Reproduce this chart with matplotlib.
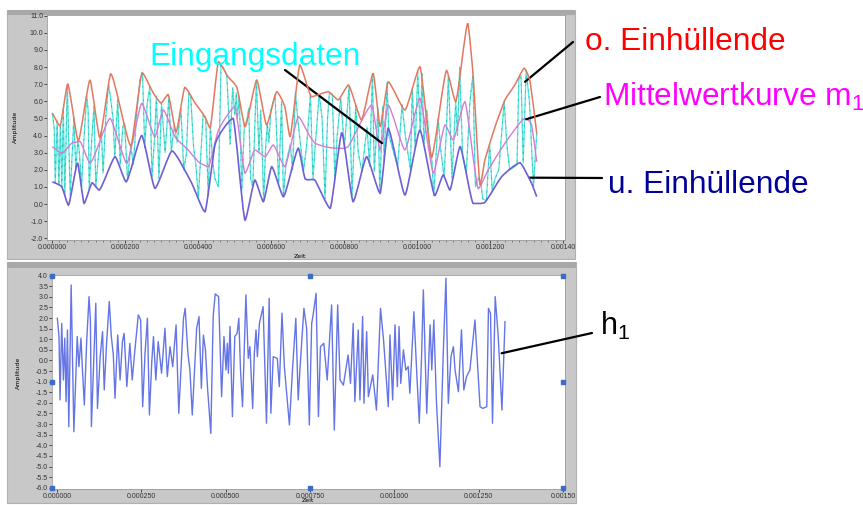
import numpy as np
import matplotlib
matplotlib.use('Agg')
import matplotlib.pyplot as plt
from matplotlib.path import Path
from matplotlib.patches import PathPatch, Rectangle

plt.rcParams['font.family'] = ['Liberation Sans', 'DejaVu Sans']
plt.rcParams['mathtext.fontset'] = 'custom'
plt.rcParams['mathtext.rm'] = 'Liberation Sans'

W, H = 863, 505

# --- upper envelope (time in microseconds) ---
zeit_oben = [1, 22, 43, 72, 104, 131, 161, 216, 247, 277, 299, 318, 340, 364, 392, 419, 433,
             456, 482, 507, 529, 561, 588, 616, 638, 652, 679, 711, 757, 784, 812, 848, 880,
             899, 921, 967, 1008, 1040, 1081, 1106, 1139, 1154, 1173, 1186, 1214, 1241, 1268,
             1294, 1310, 1328]
oben = [5.30, 4.56, 7.01, 3.68, 7.24, 3.87, 7.60, 3.39, 7.67, 6.50, 5.90, 6.40, 4.20, 6.82,
        5.90, 5.10, 4.44, 8.31, 7.44, 6.78, 4.52, 7.24, 4.62, 6.56, 5.68, 3.93, 8.12, 6.27,
        6.56, 6.08, 6.95, 4.91, 7.63, 4.52, 7.14, 5.49, 8.02, 2.72, 7.80, 5.98, 10.55, 7.44,
        1.10, 2.57, 4.52, 6.08, 6.95, 7.93, 7.14, 4.13]

# --- lower envelope ---
zeit_unten = [1, 27, 45, 70, 88, 110, 129, 173, 203, 246, 282, 329, 383, 419, 447, 496, 529,
              556, 579, 602, 634, 675, 693, 720, 762, 794, 825, 862, 899, 921, 967, 1008,
              1049, 1072, 1090, 1118, 1154, 1186, 1232, 1282, 1314, 1328]
unten = [1.30, 1.00, -0.06, 2.40, 0.04, 1.24, 0.82, 2.76, 1.30, 4.00, 0.92, 3.10, 1.21, -0.45,
         3.50, 5.00, -0.94, 1.40, 0.14, 2.18, 0.43, 3.26, 1.50, 1.40, -0.25, 4.17, 0.14, 2.76,
         0.63, 4.42, 0.53, 4.32, 0.50, 1.70, 0.82, 3.35, 0.04, 0.10, 1.60, 2.41, 1.21, 0.43]

# --- mean curve m1 ---
zeit_mittel = [1, 27, 54, 77, 104, 159, 205, 246, 282, 305, 337, 373, 401, 428, 456, 501, 529,
               556, 584, 606, 638, 675, 707, 721, 748, 775, 811, 876, 899, 921, 967, 1008,
               1045, 1077, 1099, 1131, 1168, 1195, 1241, 1296, 1314, 1328]
mittel = [3.35, 2.96, 3.55, 3.64, 2.38, 5.00, 2.38, 5.88, 3.93, 5.49, 3.93, 3.16, 2.47, 2.18,
          4.32, 5.68, 1.80, 3.16, 2.76, 3.45, 2.18, 5.10, 3.93, 3.55, 3.35, 3.26, 3.35, 5.78,
          3.16, 5.78, 3.16, 6.18, 1.80, 4.62, 3.74, 5.98, 0.90, 1.99, 3.55, 5.00, 4.62, 2.47]

# --- h1 and input data share one time base ---
zeit_h1 = [1, 6, 9, 14, 19, 23, 27, 31, 35, 42, 46, 50, 60, 65, 71, 75, 81, 88, 95, 99, 102,
           108, 115, 120, 128, 135, 140, 147, 155, 161, 167, 172, 180, 187, 194, 199, 207,
           216, 223, 231, 241, 248, 254, 261, 268, 274, 281, 286, 293, 300, 310, 320, 327,
           335, 343, 353, 361, 368, 375, 380, 388, 394, 401, 414, 421, 428, 434, 440, 446,
           456, 463, 469, 479, 488, 495, 501, 505, 508, 513, 520, 527, 534, 539, 544, 550,
           560, 567, 572, 580, 585, 590, 594, 600, 611, 621, 629, 634, 641, 653, 659, 667,
           674, 689, 698, 708, 715, 720, 732, 740, 748, 755, 760, 768, 775, 781, 791, 801,
           814, 822, 832, 839, 849, 863, 870, 878, 883, 893, 898, 906, 910, 918, 923, 936,
           947, 959, 968, 982, 987, 995, 1002, 1009, 1014, 1019, 1027, 1034, 1041, 1046,
           1058, 1066, 1074, 1081, 1086, 1096, 1106, 1111, 1117, 1125, 1135, 1145, 1153,
           1160, 1168, 1175, 1180, 1190, 1199, 1206, 1214, 1224, 1239, 1246, 1254, 1262,
           1274, 1279, 1285, 1291, 1299, 1308, 1319, 1328]
h1 = [1.99, 1.13, -1.86, 1.75, -0.92, 1.05, -1.94, 1.44, -3.12, 3.56, 0.18, -3.36, 1.13,
      -0.29, 1.05, -0.29, -2.10, 0.89, 3.01, 1.91, -3.12, -0.45, 2.70, -2.26, 0.18, 1.36,
      -1.39, 0.81, 2.78, 1.13, 0.26, -1.78, 1.20, -0.92, 0.89, 1.28, -1.23, 0.81, -0.92,
      0.50, 2.15, 1.91, -2.18, 0.34, 1.99, -2.57, -0.05, 1.13, -0.92, 0.89, -0.60, 1.52,
      -0.76, 0.65, -0.29, 1.68, -2.49, -0.29, 1.99, 2.46, 0.34, -0.45, -2.57, 1.52, 2.07,
      -1.31, 1.20, 0.50, -1.23, -3.44, 2.07, 3.14, 3.01, -1.71, 1.13, -0.45, 0.81, -0.60,
      1.60, -2.65, 1.13, 1.28, 1.99, -0.45, -2.18, 3.09, 0.10, 0.65, -2.26, 0.34, 1.44,
      0.18, 1.75, 2.54, -2.96, 2.93, -2.49, 0.18, 0.10, -1.23, 2.23, -0.29, -3.04, -0.45,
      1.99, -1.86, -0.45, 2.46, 1.52, -3.04, 1.75, 2.23, 3.17, -2.65, 0.65, 0.81, -0.92,
      2.62, -3.28, 2.62, -0.92, -1.16, 0.26, -1.08, 1.75, -1.94, 1.44, -1.86, 2.07, -2.02,
      1.36, -1.71, -0.68, -2.34, 2.46, 0.97, -2.18, 1.20, -1.86, 1.68, -1.23, 1.60, -1.08,
      0.50, -0.45, -0.29, -1.55, 2.30, -0.45, -2.96, 0.34, 3.33, -2.49, 1.68, -0.45, 1.91,
      -2.02, -5.01, 0.34, 3.88, -2.02, 0.18, 0.65, -0.45, -1.47, 1.44, -1.39, -0.76, -0.45,
      1.91, 0.02, -2.18, -2.26, -2.18, 2.46, 2.23, -2.96, 3.01, 1.13, -2.34, 1.83]
eingang = [5.30, 4.40, 1.25, 4.85, 1.10, 4.70, 1.00, 5.60, 0.50, 7.00, 3.50, 0.50, 5.10,
           2.00, 3.80, 3.00, 1.00, 4.00, 6.30, 5.50, 0.90, 3.50, 5.70, 1.00, 3.00, 4.30,
           1.80, 5.00, 7.00, 6.10, 5.00, 2.76, 6.10, 2.30, 4.50, 4.70, 1.40, 3.40, 2.30,
           5.00, 7.30, 7.60, 3.30, 5.90, 6.85, 1.60, 3.90, 6.30, 1.50, 5.90, 3.00, 6.20,
           3.10, 4.60, 3.60, 5.60, 2.00, 2.90, 6.50, 6.30, 3.30, 2.30, 0.40, 5.20, 5.00,
           0.50, 4.60, 2.50, 1.50, 1.00, 8.10, 8.00, 7.50, 3.50, 6.80, 5.20, 6.50, 5.00,
           6.30, 0.80, 4.60, 4.90, 5.60, 1.50, 1.00, 7.20, 3.00, 5.50, 0.20, 3.20, 4.70,
           3.60, 5.50, 6.40, 1.20, 6.00, 0.43, 2.40, 3.50, 2.00, 6.50, 4.80, 1.90, 3.50,
           6.40, 1.40, 3.10, 6.40, 5.00, 0.30, 5.00, 6.50, 6.40, 1.50, 3.90, 6.20, 3.30,
           6.90, 0.50, 5.80, 3.00, 1.90, 4.50, 2.20, 7.60, 1.90, 5.60, 0.70, 5.70, 2.50,
           7.10, 4.00, 3.00, 2.20, 5.80, 4.00, 2.00, 6.70, 3.30, 7.70, 4.30, 7.60, 3.50,
           5.50, 3.50, 2.50, 0.50, 5.00, 3.00, 1.60, 4.50, 7.50, 1.50, 6.00, 4.00, 8.00,
           2.80, 1.80, 6.00, 7.50, 1.00, 1.50, 1.20, 0.30, 0.20, 3.50, 0.80, 1.50, 2.00,
           6.00, 3.50, 2.00, 2.10, 2.30, 7.30, 7.50, 2.40, 7.80, 6.00, 1.00, 4.13]

x_ticks_oben = [0, 200, 400, 600, 800, 1000, 1200, 1400]
x_labels_oben = ['0.000000', '0.000200', '0.000400', '0.000600', '0.000800',
                 '0.001000', '0.001200', '0.00140']
y_ticks_oben = np.arange(-2.0, 11.5, 1.0)
x_ticks_h1 = [0, 250, 500, 750, 1000, 1250, 1500]
x_labels_h1 = ['0.000000', '0.000250', '0.000500', '0.000750', '0.001000',
               '0.001250', '0.00150']
y_ticks_h1 = np.arange(-6.0, 4.25, 0.5)


def px_box(x0, y0, x1, y1):
    """pixel box (top-left origin) -> figure fraction rect"""
    return [x0 / W, 1 - y1 / H, (x1 - x0) / W, (y1 - y0) / H]


def smooth_line(ax, t, v, **kw):
    # cubic bezier through every point, flat tangent at local extrema
    p = np.column_stack([np.asarray(t, float), np.asarray(v, float)])
    n = len(p)
    tang = np.zeros_like(p)
    for i in range(n):
        a, b = p[max(i - 1, 0)], p[min(i + 1, n - 1)]
        tang[i] = (b - a) / 2.0
        if 0 < i < n - 1 and (p[i, 1] - a[1]) * (b[1] - p[i, 1]) <= 0:
            tang[i, 1] = 0.0
    verts, codes = [p[0]], [Path.MOVETO]
    for i in range(n - 1):
        h = (p[i + 1, 0] - p[i, 0])
        s0 = tang[i] * (h / max(2 * tang[i, 0], 1e-9)) / 3
        s1 = tang[i + 1] * (h / max(2 * tang[i + 1, 0], 1e-9)) / 3
        verts += [p[i] + s0, p[i + 1] - s1, p[i + 1]]
        codes += [Path.CURVE4] * 3
    ax.add_patch(PathPatch(Path(verts, codes), fill=False, **kw))


def style_axes(ax):
    ax.set_facecolor('white')
    for s in ax.spines.values():
        s.set_color('#9c9c9c')
        s.set_linewidth(0.6)
    ax.tick_params(labelsize=5, length=2.0, width=0.6, pad=0.8,
                   colors='#333333', direction='out')


def frame(x0, y0, x1, y1, strip_h):
    r = px_box(x0, y0, x1, y1)
    fig.add_artist(Rectangle(r[:2], r[2], r[3], transform=fig.transFigure,
                             facecolor='#c8c8c8', edgecolor='#b0b0b0', lw=0.8, zorder=0))
    s = px_box(x0, y0, x1, y0 + strip_h)
    fig.add_artist(Rectangle(s[:2], s[2], s[3], transform=fig.transFigure,
                             facecolor='#a9a9a9', edgecolor='none', zorder=0))


fig = plt.figure(figsize=(W / 100, H / 100), dpi=100)
frame(7, 10, 575, 259, 5)
frame(7, 262, 576, 503, 6)

us = 1e-6

# --- top: input data with envelopes and mean ---
ax1 = fig.add_axes(px_box(47, 15, 565, 240))
style_axes(ax1)
ax1.plot(np.array(zeit_h1) * us, eingang, color='#4fe8da', lw=0.9, zorder=2)
ax1.plot(np.array(zeit_h1) * us, eingang, color='#2b8ea3', lw=0.7, alpha=0.55,
         ls=(0, (2, 5)), zorder=2)
smooth_line(ax1, np.array(zeit_mittel) * us, mittel, color='#d47bd6', lw=1.0, zorder=3)
smooth_line(ax1, np.array(zeit_unten) * us, unten, color='#6d5fd5', lw=1.2, zorder=4)
smooth_line(ax1, np.array(zeit_oben) * us, oben, color='#e2785f', lw=1.1, zorder=4)
ax1.set_xlim(-13.7 * us, 1405.5 * us)
ax1.set_ylim(-2.10, 11.04)
ax1.set_xticks(np.array(x_ticks_oben) * us)
ax1.set_xticklabels(x_labels_oben)
ax1.set_xticks(np.arange(0, 1401, 20) * us, minor=True)
ax1.tick_params(axis='x', which='minor', length=1.5, width=0.5, colors='#555555')
ax1.set_yticks(y_ticks_oben)
ax1.set_yticklabels(['%.1f' % v for v in y_ticks_oben])
fig.text(15 / W, 1 - 127 / H, 'Amplitude', rotation=90, fontsize=4.5,
         ha='center', va='center', family='DejaVu Sans')
fig.text(300 / W, 1 - 256 / H, 'Zeit', fontsize=4.5, ha='center', va='center',
         family='DejaVu Sans')

# --- bottom: h1 ---
ax2 = fig.add_axes(px_box(52, 275, 565, 489))
style_axes(ax2)
ax2.plot(np.array(zeit_h1) * us, h1, color='#6575e6', lw=1.0)
ax2.set_xlim(-14.8 * us, 1505.9 * us)
ax2.set_ylim(-6.06, 4.03)
ax2.set_xticks(np.array(x_ticks_h1) * us)
ax2.set_xticklabels(x_labels_h1)
ax2.set_yticks(y_ticks_h1)
ax2.set_yticklabels(['%.1f' % v for v in y_ticks_h1])
fig.text(18 / W, 1 - 373 / H, 'Amplitude', rotation=90, fontsize=4.5,
         ha='center', va='center', family='DejaVu Sans')
fig.text(308 / W, 1 - 501 / H, 'Zeit', fontsize=4.5, ha='center', va='center',
         family='DejaVu Sans')

# cursor handles
cx = [-14.8 * us, 750 * us, 1500 * us]
cy = [4.0, -1.0, -6.0]
for x in cx:
    for y in cy:
        if x == cx[1] and y == cy[1]:
            continue
        ax2.plot([x], [y], marker='s', ms=2.4, color='#3b6cc9', clip_on=False, zorder=5)

# --- callouts ---
line_kw = dict(arrowstyle='-', color='black', lw=1.6, shrinkA=0, shrinkB=0)


def callout(ax, t_us, v, x_px, y_px):
    ax.annotate('', xy=(t_us * us, v), xycoords='data',
                xytext=(x_px / W, 1 - y_px / H), textcoords='figure fraction',
                arrowprops=line_kw, annotation_clip=False)


callout(ax1, 904, 3.56, 285, 70)
callout(ax1, 1296, 7.14, 573, 42)
callout(ax1, 1299, 4.95, 600, 97)
callout(ax1, 1308, 1.54, 602, 178)
callout(ax2, 1318, 0.34, 592, 333)

fig.text(149 / W, 1 - 65 / H, 'Eingangsdaten', color='#00ffff', fontsize=22.8,
         va='baseline')
fig.text(585 / W, 1 - 50 / H, 'o. Einhüllende', color='#ff0000', fontsize=22.8,
         va='baseline')
fig.text(603 / W, 1 - 106 / H, 'Mittelwertkurve m$_1$', color='#ff00ff', fontsize=22.8,
         va='baseline')
fig.text(608 / W, 1 - 193 / H, 'u. Einhüllende', color='#000099', fontsize=22.8,
         va='baseline')
fig.text(600 / W, 1 - 335 / H, 'h$_1$', color='black', fontsize=22, va='baseline')

fig.savefig('out.png', dpi=100, facecolor='white')
